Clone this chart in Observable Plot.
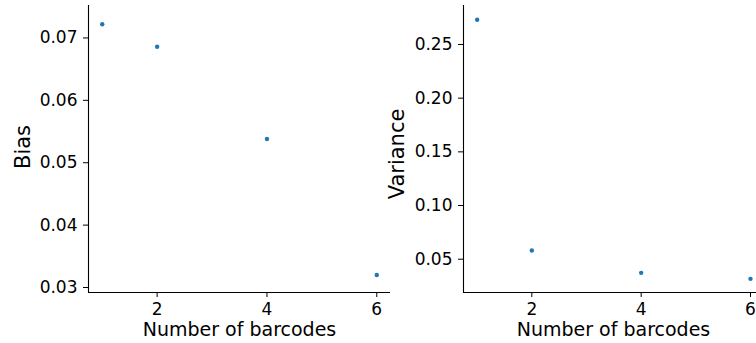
<!DOCTYPE html>
<html>
<head>
<meta charset="utf-8">
<script src="https://cdn.jsdelivr.net/npm/d3@7"></script>
<script src="https://cdn.jsdelivr.net/npm/@observablehq/plot@0.6"></script>
<style>
  html, body { margin: 0; padding: 0; background: #fff; overflow: hidden; }
  #wrap { display: flex; flex-direction: row; width: 756px; height: 343px; }
  svg { display: block; }
</style>
</head>
<body>
<div id="wrap"></div>
<script>
// Data
const barcodes = [1, 2, 4, 6];
const bias = [0.0722, 0.0686, 0.0538, 0.0320];
const variance = [0.2730, 0.0581, 0.0373, 0.0317];
const xTicks = [2, 4, 6];
const biasTicks = [0.03, 0.04, 0.05, 0.06, 0.07];
const varianceTicks = [0.05, 0.10, 0.15, 0.20, 0.25];

const font = "DejaVu Sans, sans-serif";
const dotColor = "#1f77b4";

function panel({width, marginLeft, marginRight, xDomain, yDomain, yValues, yTicks, yLabel, yLabelDx, yLabelDy, xLabelDx}) {
  const data = barcodes.map((b, i) => ({b, v: yValues[i]}));
  return Plot.plot({
    width, height: 343,
    marginLeft, marginRight, marginTop: 5, marginBottom: 51,
    style: {fontFamily: font, color: "#000", background: "transparent", overflow: "visible"},
    x: {domain: xDomain, ticks: xTicks},
    y: {domain: yDomain, ticks: yTicks},
    marks: [
      Plot.ruleX([xDomain[0]], {stroke: "#000", strokeWidth: 1.1}),
      Plot.ruleY([yDomain[0]], {stroke: "#000", strokeWidth: 1.1}),
      Plot.axisX({ticks: xTicks, tickSize: 5, tickPadding: 5, fontSize: 17, label: null, tickFormat: d3.format("d")}),
      Plot.axisY({ticks: yTicks, tickSize: 5, tickPadding: 6, fontSize: 17, label: null, tickFormat: d3.format(".2f")}),
      Plot.text(["Number of barcodes"], {frameAnchor: "bottom", lineAnchor: "top", textAnchor: "middle", dy: 30, dx: xLabelDx, fontSize: 19, fill: "#000"}),
      Plot.text([yLabel], {frameAnchor: "left", textAnchor: "middle", lineAnchor: "middle", rotate: -90, dx: yLabelDx, dy: yLabelDy, fontSize: 21, fill: "#000"}),
      Plot.dot(data, {x: "b", y: "v", r: 2.2, fill: dotColor, stroke: null})
    ]
  });
}

const wrap = document.getElementById("wrap");
wrap.appendChild(panel({
  width: 390, marginLeft: 88, marginRight: 0,
  xDomain: [0.75, 6.25], yDomain: [0.0292, 0.0752],
  yValues: bias, yTicks: biasTicks, yLabel: "Bias", yLabelDx: -65, yLabelDy: -2, xLabelDx: 0
}));
wrap.appendChild(panel({
  width: 366, marginLeft: 73, marginRight: 0,
  xDomain: [0.75, 6.11], yDomain: [0.019, 0.2863],
  yValues: variance, yTicks: varianceTicks, yLabel: "Variance", yLabelDx: -66, yLabelDy: 5, xLabelDx: 3.5
}));
</script>
</body>
</html>
